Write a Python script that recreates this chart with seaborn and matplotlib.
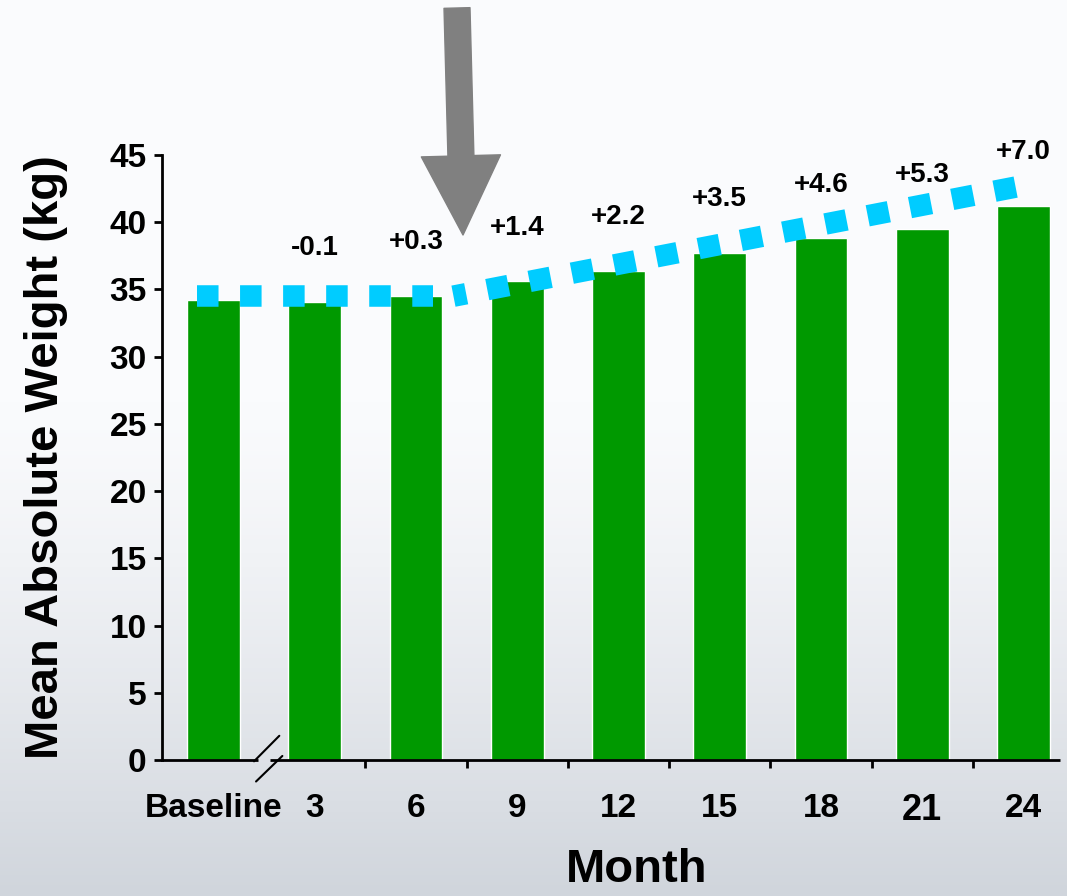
import matplotlib.pyplot as plt
import matplotlib.patches as mpatches
import numpy as np
import pandas as pd
import seaborn as sns

months = ["Baseline", "3", "6", "9", "12", "15", "18", "21", "24"]
weight = [34.2, 34.1, 34.5, 35.6, 36.4, 37.7, 38.8, 39.5, 41.2]
change = ["", "-0.1", "+0.3", "+1.4", "+2.2", "+3.5", "+4.6", "+5.3", "+7.0"]
# dotted trend line: flat before treatment, rising after
flat_x, flat_y = [-0.16, 2.17], [34.5, 34.5]
rise_x, rise_y = [2.37, 8.05], [34.5, 42.8]

sns.set_style("white")
plt.rcParams["font.family"] = ["Liberation Sans", "DejaVu Sans"]
plt.rcParams["font.weight"] = "bold"
for k in ["text.color", "axes.labelcolor", "xtick.color", "ytick.color"]:
    plt.rcParams[k] = "black"

df = pd.DataFrame({"month": months, "weight": weight})

fig = plt.figure(figsize=(10.67, 8.96), dpi=100)

# soft vertical gradient behind everything
bg = fig.add_axes([0, 0, 1, 1], zorder=-10)
t = np.linspace(0, 1, 256)
g = np.clip((t - 0.45) / 0.55, 0, 1) ** 1.3
top = np.array([0xfa, 0xfb, 0xfd]) / 255
bot = np.array([0xd0, 0xd5, 0xdc]) / 255
img = top[None, :] * (1 - g[:, None]) + bot[None, :] * g[:, None]
bg.imshow(img[:, None, :], aspect="auto", extent=[0, 1, 0, 1])
bg.axis("off")

ax = fig.add_axes([0.1518, 0.1518, 0.8416, 0.6752])
ax.patch.set_alpha(0)
sns.barplot(data=df, x="month", y="weight", color="#009900", saturation=1,
            width=0.52, ax=ax)

ax.plot(flat_x, flat_y, color="#00ccff", lw=15.5, ls=(0, (1, 1)),
        solid_capstyle="butt", dash_capstyle="butt", clip_on=False, zorder=5)
ax.plot(rise_x, rise_y, color="#00ccff", lw=15.5, ls=(0.4, (1, 1)),
        solid_capstyle="butt", dash_capstyle="butt", clip_on=False, zorder=5)

for i, (w, c) in enumerate(zip(weight, change)):
    if c:
        ax.text(i, w + 4.0, c, ha="center", va="center", fontsize=20,
                fontweight="bold", clip_on=False)

ax.set_xlim(-0.509, 8.36)
ax.set_ylim(0, 45)
ax.set_yticks(range(0, 46, 5))
ax.tick_params(axis="y", direction="out", length=6, width=2, pad=5,
               labelsize=24, left=True)
ax.set_xticks(range(len(months)))
ax.set_xticklabels(months)
ax.tick_params(axis="x", which="major", length=0, pad=24, labelsize=24)
ax.set_xticks(np.arange(1.5, 8, 1), minor=True)
ax.tick_params(axis="x", which="minor", direction="out", length=6, width=2,
               bottom=True)
for lab in ax.get_xticklabels():
    lab.set_fontweight("bold")
    if lab.get_text() == "21":
        lab.set_fontsize(26)
for lab in ax.get_yticklabels():
    lab.set_fontweight("bold")

for s in ["top", "right", "bottom"]:
    ax.spines[s].set_visible(False)
ax.spines["left"].set_linewidth(2)
ax.spines["left"].set_color("black")

# broken x axis
ax.plot([-0.509, 0.44], [0, 0], color="black", lw=2, clip_on=False,
        solid_capstyle="butt")
ax.plot([0.56, 8.36], [0, 0], color="black", lw=2, clip_on=False,
        solid_capstyle="butt")
ax.plot([0.40, 0.65], [-0.1, 1.8], color="black", lw=1.5, clip_on=False)
ax.plot([0.42, 0.68], [-1.6, 0.3], color="black", lw=1.5, clip_on=False)

ax.set_xlabel("Month", fontsize=34, fontweight="bold")
ax.xaxis.set_label_coords(0.529, -0.146)
ax.set_ylabel("Mean Absolute Weight (kg)", fontsize=34, fontweight="bold",
              labelpad=30)

# big grey arrow marking the treatment start
arrow = mpatches.FancyArrowPatch(
    (457 / 1067, 1 - 8 / 896), (463 / 1067, 1 - 235 / 896),
    transform=fig.transFigure, arrowstyle="simple,head_length=57,head_width=57,tail_width=18.7",
    mutation_scale=1, shrinkA=0, shrinkB=0, color="#808080", zorder=10)
fig.patches.append(arrow)

fig.savefig("out.png", dpi=100)
